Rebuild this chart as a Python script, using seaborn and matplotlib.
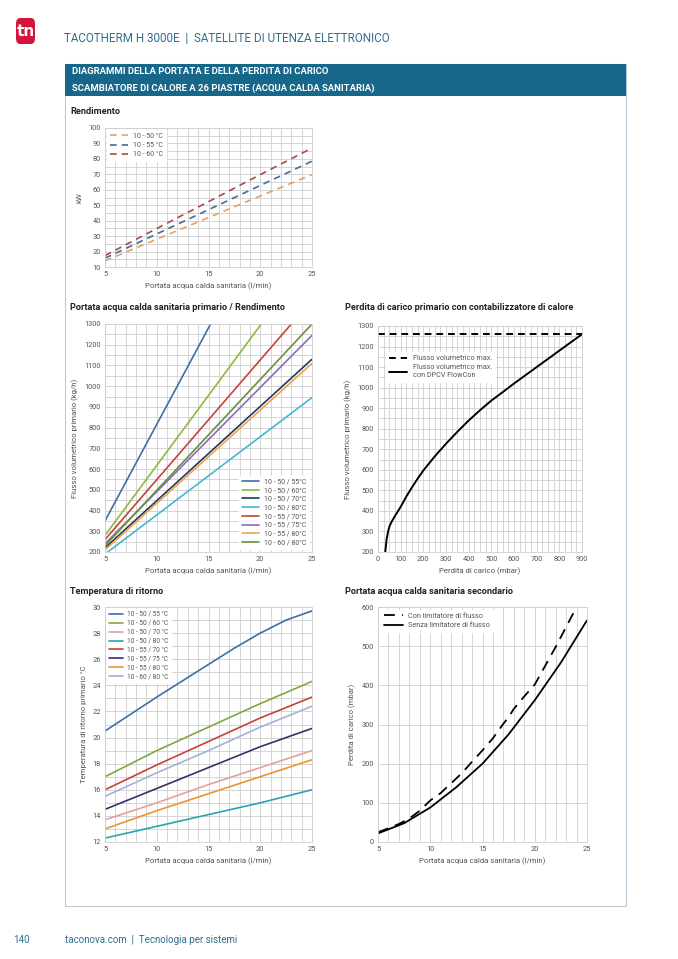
import numpy as np
import pandas as pd
import matplotlib
matplotlib.use('Agg')
import matplotlib.pyplot as plt
from matplotlib.patches import Rectangle, FancyBboxPatch
from matplotlib.ticker import MultipleLocator
import seaborn as sns

sns.set_style('white')
plt.rcParams['font.family'] = ['Liberation Sans Narrow', 'DejaVu Sans Condensed', 'Roboto', 'DejaVu Sans']

# --- data ---
# Rendimento (kW vs l/min)
rend_x = [5, 10, 15, 20, 25]
rend_labels = ['10 - 50 °C', '10 - 55 °C', '10 - 60 °C']
rend_5055 = [14.0, 28.0, 42.0, 56.0, 69.8]
rend_5555 = [15.7, 31.4, 47.1, 62.8, 78.5]
rend_6060 = [17.4, 34.9, 52.3, 69.8, 87.0]
rend_colors = ['#e3a25f', '#3f6e98', '#a54c4a']

# Portata primario / rendimento (kg/h vs l/min)
prim_labels = ['10 - 50 / 55°C', '10 - 50 / 60°C', '10 - 50 / 70°C', '10 - 50 / 80°C',
               '10 - 55 / 70°C', '10 - 55 / 75°C', '10 - 55 / 80°C', '10 - 60 / 80°C']
prim_x = [[5, 15.2], [5, 20.1], [5, 25], [5, 25], [5, 23.0], [5, 25], [5, 25], [5, 25]]
prim_y = [[350, 1300], [280, 1300], [220, 1130], [190, 945],
          [260, 1300], [240, 1245], [210, 1110], [230, 1300]]
prim_colors = ['#3d6fa6', '#8fb83f', '#1f3a5c', '#40b9cd',
               '#c6423b', '#8a6cb6', '#f0a251', '#6b8f3b']

# Perdita di carico primario
dp_x = [32, 38, 45, 51, 60, 73, 100, 125, 150, 175, 200, 250, 300, 350, 400, 450,
        500, 550, 600, 650, 700, 750, 800, 850, 900]
dp_y = [200, 262, 302, 326, 347, 372, 420, 470, 515, 557, 597, 665, 727, 785, 840, 890,
        937, 978, 1020, 1060, 1100, 1140, 1180, 1220, 1260]
dp_max_x = [0, 910]
dp_max_y = [1260, 1260]

# Temperatura di ritorno
tr_x = [5, 10, 15, 20, 25]
tr_blue_x = [5, 7.5, 10, 12.5, 15, 17.5, 20, 22.5, 25]
tr_labels = ['10 - 50 / 55 °C', '10 - 50 / 60 °C', '10 - 50 / 70 °C', '10 - 50 / 80 °C',
             '10 - 55 / 70 °C', '10 - 55 / 75 °C', '10 - 55 / 80 °C', '10 - 60 / 80 °C']
tr_y = [[20.5, 21.8, 23.1, 24.35, 25.6, 26.85, 28.0, 29.0, 29.7],
        [17.0, 19.0, 20.8, 22.6, 24.3],
        [13.7, 15.0, 16.4, 17.7, 19.0],
        [12.3, 13.2, 14.1, 15.0, 16.0],
        [16.0, 17.9, 19.7, 21.5, 23.1],
        [14.5, 16.1, 17.7, 19.3, 20.7],
        [13.0, 14.4, 15.7, 17.0, 18.3],
        [15.5, 17.3, 19.0, 20.8, 22.4]]
tr_colors = ['#3d6ea5', '#7fa83c', '#e0a29c', '#2aa2b4',
             '#c8403a', '#3b2e68', '#e9962c', '#a0b2da']

# Portata secondario (mbar vs l/min)
sec_con_x = [5, 6, 7, 8, 9, 10, 11, 12, 13, 14, 15, 16, 17, 17.5, 18, 19, 20, 21, 22, 23, 24]
sec_con_y = [25, 35, 46, 60, 80, 106, 125, 150, 175, 205, 234, 265, 302, 319, 340, 372,
             402, 450, 498, 549, 600]
sec_senza_x = [5, 7.5, 10, 12.5, 15, 17.5, 20, 22.5, 25]
sec_senza_y = [22, 48, 88, 140, 200, 275, 362, 458, 566]

W, H = 678, 959
fig = plt.figure(figsize=(W / 100, H / 100), dpi=100)


def box(x0, y0, x1, y1):
    return [x0 / W, 1 - y1 / H, (x1 - x0) / W, (y1 - y0) / H]


def px(x, y):
    return x / W, 1 - y / H


GRID = '#cfcfcf'
TXT = '#555555'


def style_ax(ax, xl, yl, xlim, ylim, xmaj, xmin, ymaj, ymin):
    ax.set_xlim(*xlim)
    ax.set_ylim(*ylim)
    ax.xaxis.set_major_locator(MultipleLocator(xmaj))
    ax.xaxis.set_minor_locator(MultipleLocator(xmin))
    ax.yaxis.set_major_locator(MultipleLocator(ymaj))
    ax.yaxis.set_minor_locator(MultipleLocator(ymin))
    ax.grid(which='both', color=GRID, lw=0.6)
    ax.set_axisbelow(True)
    ax.tick_params(which='both', length=0, labelsize=5.3, colors=TXT, pad=3)
    for s in ax.spines.values():
        s.set_color(GRID)
        s.set_linewidth(0.6)
    ax.set_xlabel(xl, fontsize=5.6, color=TXT, labelpad=3)
    ax.set_ylabel(yl, fontsize=5.6, color=TXT, labelpad=4)


# page frame
fig.patches.append(Rectangle(px(65, 906), 561 / W, 842 / H, transform=fig.transFigure,
                             facecolor='none', edgecolor='#b9c9d5', lw=0.8, zorder=0))
fig.patches.append(Rectangle(px(65, 96), 561 / W, 32 / H, transform=fig.transFigure,
                             facecolor='#17678b', edgecolor='none', zorder=1))
fig.patches.append(FancyBboxPatch(px(16, 44), 19 / W, 26 / H, transform=fig.transFigure,
                                  boxstyle='round,pad=0,rounding_size=0.006',
                                  facecolor='#d4143a', edgecolor='none', zorder=1))
fig.text(*px(25.5, 31), 'tn', color='white', fontsize=11, fontweight='bold',
         ha='center', va='center', family='DejaVu Sans')
fig.text(*px(64, 39), 'TACOTHERM H 3000E  |  SATELLITE DI UTENZA ELETTRONICO',
         color='#2f6f8c', fontsize=8.4, va='center')
fig.text(*px(72, 72), 'DIAGRAMMI DELLA PORTATA E DELLA PERDITA DI CARICO',
         color='white', fontsize=6.8, fontweight='bold', va='center')
fig.text(*px(72, 88), 'SCAMBIATORE DI CALORE A 26 PIASTRE (ACQUA CALDA SANITARIA)',
         color='white', fontsize=6.8, fontweight='bold', va='center')
fig.text(*px(13, 940), '140', color='#2f6f8c', fontsize=7, va='center')
fig.text(*px(65, 940), 'taconova.com  |  Tecnologia per sistemi', color='#2f6f8c',
         fontsize=7, va='center')

for (x, y, t) in [(70, 111, 'Rendimento'),
                  (70, 307, 'Portata acqua calda sanitaria primario / Rendimento'),
                  (345, 307, 'Perdita di carico primario con contabilizzatore di calore'),
                  (70, 591, 'Temperatura di ritorno'),
                  (345, 591, 'Portata acqua calda sanitaria secondario')]:
    fig.text(*px(x, y), t, color='#222222', fontsize=6.6, fontweight='bold', va='center')

leg_kw = dict(frameon=True, facecolor='white', edgecolor='white',
              framealpha=1, labelcolor=TXT, fancybox=False)

# chart 1 - Rendimento
ax1 = fig.add_axes(box(105, 128, 312, 267))
for yv, lab, col in zip([rend_5055, rend_5555, rend_6060], rend_labels, rend_colors):
    sns.lineplot(x=rend_x, y=yv, ax=ax1, color=col, label=lab, lw=1.2,
                 linestyle=(0, (4, 3)))
style_ax(ax1, 'Portata acqua calda sanitaria (l/min)', 'kW', (5, 25), (10, 100), 5, 1, 10, 5)
ax1.legend(loc='upper left', borderaxespad=0.3, labelspacing=0.3, fontsize=5.0,
           handlelength=2.6, **leg_kw)

# chart 2 - Portata primario
ax2 = fig.add_axes(box(105, 324, 312, 552))
for xv, yv, lab, col in zip(prim_x, prim_y, prim_labels, prim_colors):
    sns.lineplot(x=xv, y=yv, ax=ax2, color=col, label=lab, lw=1.2)
style_ax(ax2, 'Portata acqua calda sanitaria (l/min)', 'Flusso volumetrico primario (kg/h)',
         (5, 25), (200, 1300), 5, 1, 100, 50)
ax2.legend(loc='lower right', borderaxespad=0.4, labelspacing=0.25, fontsize=5.0,
           handlelength=2.4, **leg_kw)

# chart 3 - Perdita di carico primario
ax3 = fig.add_axes(box(378, 326, 582, 552))
sns.lineplot(x=dp_max_x, y=dp_max_y, ax=ax3, color='black', lw=1.4,
             linestyle=(0, (3.5, 2.5)), label='Flusso volumetrico max.')
sns.lineplot(x=dp_x, y=dp_y, ax=ax3, color='black', lw=1.4,
             label='Flusso volumetrico max.\ncon DPCV FlowCon')
style_ax(ax3, 'Perdita di carico (mbar)', 'Flusso volumetrico primario (kg/h)',
         (0, 900), (200, 1300), 100, 25, 100, 50)
ax3.legend(loc='upper left', bbox_to_anchor=(0.02, 0.9), labelspacing=0.3, fontsize=5.2,
           handlelength=2.6, **leg_kw)

# chart 4 - Temperatura di ritorno
ax4 = fig.add_axes(box(105, 607, 312, 842))
for i, (yv, lab, col) in enumerate(zip(tr_y, tr_labels, tr_colors)):
    xv = tr_blue_x if i == 0 else tr_x
    sns.lineplot(x=xv, y=yv, ax=ax4, color=col, label=lab, lw=1.2)
style_ax(ax4, 'Portata acqua calda sanitaria (l/min)', 'Temperatura di ritorno primario °C',
         (5, 25), (12, 30), 5, 1, 2, 1)
ax4.legend(loc='upper left', borderaxespad=0.3, labelspacing=0.3, fontsize=4.7,
           handlelength=2.2, handletextpad=0.6, borderpad=0.3, **leg_kw)

# chart 5 - Portata secondario
ax5 = fig.add_axes(box(378, 607, 587, 842))
sns.lineplot(x=sec_con_x, y=sec_con_y, ax=ax5, color='black', lw=1.3,
             linestyle=(0, (6, 4)), label='Con limitatore di flusso')
sns.lineplot(x=sec_senza_x, y=sec_senza_y, ax=ax5, color='black', lw=1.3,
             label='Senza limitatore di flusso')
style_ax(ax5, 'Portata acqua calda sanitaria (l/min)', 'Perdita di carico (mbar)',
         (5, 25), (0, 600), 5, 1, 100, 100)
ax5.grid(which='minor', axis='y', visible=False)
ax5.legend(loc='upper left', borderaxespad=0.4, labelspacing=0.3, fontsize=5.2,
           handlelength=2.6, **leg_kw)

fig.savefig('out.png', dpi=100)
